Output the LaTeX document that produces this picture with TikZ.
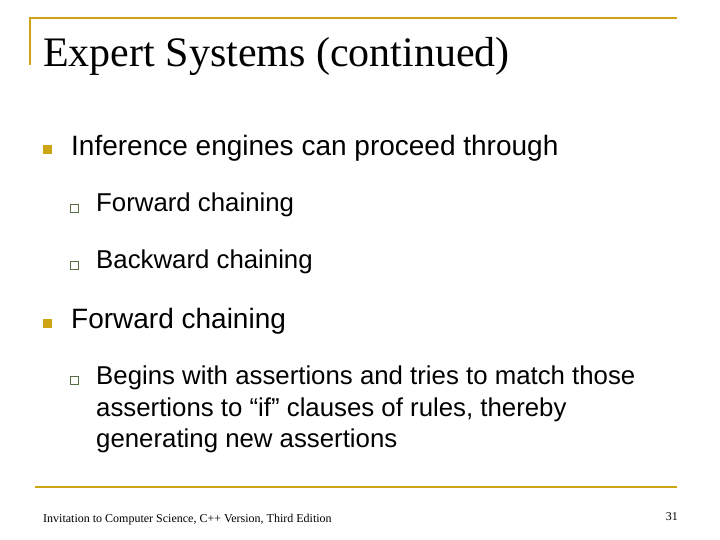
\documentclass[tikz,border=0pt]{standalone}
\usepackage{fontspec}
\setmainfont{Liberation Serif}
\newfontfamily\arial{Liberation Sans}
\definecolor{gold}{RGB}{204,164,20}
\definecolor{olive}{RGB}{90,110,70}
\begin{document}
\begin{tikzpicture}[x=1pt,y=-1pt,
  l1/.style={anchor=west,font=\arial\fontsize{28}{32}\selectfont,inner sep=0},
  l2/.style={anchor=west,font=\arial\fontsize{25.8}{30}\selectfont,inner sep=0},
  l2m/.style={anchor=north west,font=\arial\fontsize{25.8}{31.5}\selectfont,inner sep=0,align=left},
  fb/.style={fill=gold,minimum size=9pt,inner sep=0},
  hb/.style={draw=olive,line width=0.8pt,fill=white,minimum size=8pt,inner sep=0}]
\useasboundingbox (0,0) rectangle (720,540);
\draw[gold,line width=2pt] (30,65) -- (30,18) -- (677,18);
\node[anchor=base west,inner sep=0,font=\fontsize{42}{44}\selectfont] (t) at (43,67) {Expert Systems (continued)};
\node[fb] (b1) at (47,150) {};
\node[l1] (t1) at (71,148) {Inference engines can proceed through};
\node[hb] (s1) at (74,208) {};
\node[l2] (u1) at (96,205) {Forward chaining};
\node[hb] (s2) at (74,265) {};
\node[l2] (u2) at (96,262) {Backward chaining};
\node[fb] (b2) at (47,323) {};
\node[l1] (t2) at (71,321) {Forward chaining};
\node[hb] (s3) at (74,380) {};
\node[l2m] (u3) at (96,366) {Begins with assertions and tries to match those\\assertions to “if” clauses of rules, thereby\\generating new assertions};
\draw[gold,line width=2pt] (35,487) -- (677,487);
\node[anchor=base west,inner sep=0,font=\fontsize{12}{14}\selectfont] (f) at (43,522) {Invitation to Computer Science, C++ Version, Third Edition};
\node[anchor=base east,inner sep=0,font=\fontsize{12}{14}\selectfont] (p) at (678,520) {31};
\end{tikzpicture}
\end{document}
